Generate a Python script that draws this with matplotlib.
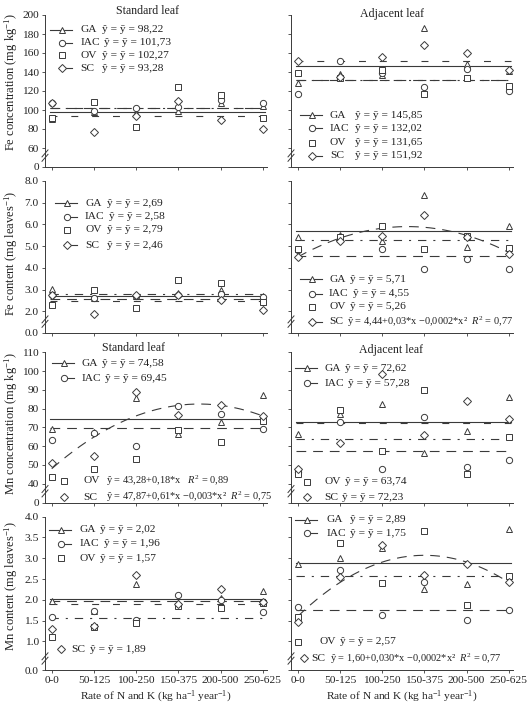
import numpy as np
import matplotlib
matplotlib.use("Agg")
import matplotlib.pyplot as plt
from matplotlib.lines import Line2D

plt.rcParams['font.family'] = ['Liberation Serif', 'DejaVu Serif']
plt.rcParams['mathtext.fontset'] = 'custom'
plt.rcParams['mathtext.rm'] = 'Liberation Serif'
plt.rcParams['mathtext.it'] = 'Liberation Serif:italic'
plt.rcParams['mathtext.bf'] = 'Liberation Serif:bold'
plt.rcParams['lines.scale_dashes'] = False

# ---------------- data ----------------
categories = ["0-0", "50-125", "100-250", "150-375", "200-500", "250-625"]
n_rate = [0, 50, 100, 150, 200, 250]
cultivars = ["GA", "IAC", "OV", "SC"]

# Fe concentration, standard leaf
fe_conc_std_GA = [91, 98, 97, 99, 107, 104]
fe_conc_std_IAC = [107, 99, 101.8, 103, 110.7, 107.1]
fe_conc_std_OV = [91.5, 108.9, 82, 124.5, 115.6, 91.2]
fe_conc_std_SC = [107.1, 77, 93.3, 109.6, 90, 80.5]
fe_conc_std_fit = [98.22, 101.73, 102.27, 93.28]

# Fe concentration, adjacent leaf
fe_conc_adj_GA = [128, 138, 136.5, 185.8, 147.9, 141.5]
fe_conc_adj_IAC = [116.7, 152, 139, 123.8, 143.3, 119.5]
fe_conc_adj_OV = [138.7, 134, 142.6, 116.7, 133.4, 124.8]
fe_conc_adj_SC = [151.1, 134.5, 155.7, 168, 160, 142.6]
fe_conc_adj_fit = [145.85, 132.02, 131.65, 151.92]

# Fe content, standard leaf
fe_cont_std_GA = [3.03, 2.6, 2.7, 2.85, 3.0, 2.7]
fe_cont_std_IAC = [2.76, 2.6, 2.7, 2.76, 2.8, 2.65]
fe_cont_std_OV = [2.27, 3.0, 2.17, 3.44, 3.3, 2.45]
fe_cont_std_SC = [2.76, 1.89, 2.73, 2.76, 2.5, 2.05]
fe_cont_std_fit = [2.69, 2.58, 2.79, 2.46]

# Fe content, adjacent leaf
fe_cont_adj_GA = [5.42, 5.53, 5.23, 7.35, 4.97, 5.95]
fe_cont_adj_IAC = [4.8, 5.3, 4.89, 3.97, 4.39, 3.97]
fe_cont_adj_OV = [4.85, 5.41, 5.91, 4.88, 5.45, 4.92]
fe_cont_adj_SC = [4.52, 5.23, 5.45, 6.44, 5.41, 4.62]
fe_cont_adj_fit = [5.71, 4.55, 5.26, None]
fe_cont_adj_SC_curve = [4.5, 0.02154, -8.28e-5]   # as drawn

# Mn concentration, standard leaf
mn_conc_std_GA = [69.2, 67.5, 85.6, 66.7, 72.9, 87.4]
mn_conc_std_IAC = [63.3, 67, 60, 81.5, 77.3, 69.2]
mn_conc_std_OV = [43.5, 48, 53.3, 68.4, 62.3, 73.6]
mn_conc_std_SC = [50.8, 55, 88.6, 76.7, 82.1, 75.9]
mn_conc_std_fit = [74.58, 69.45, None, None]
mn_conc_std_SC_curve = [48.0, 0.394, -1.1265e-3]  # as drawn

# Mn concentration, adjacent leaf
mn_conc_adj_GA = [66.7, 77.1, 82.4, 56.1, 67.9, 86.1]
mn_conc_adj_IAC = [46.4, 72.9, 48.1, 75.4, 48.8, 52.5]
mn_conc_adj_OV = [45, 79.4, 57.3, 90, 45, 64.9]
mn_conc_adj_SC = [48.1, 61.7, 98.3, 66.2, 83.8, 74.6]
mn_conc_adj_fit = [72.62, 57.28, 63.74, 72.23]

# Mn content, standard leaf
mn_cont_std_GA = [1.97, 1.72, 2.37, 1.93, 2.05, 2.21]
mn_cont_std_IAC = [1.59, 1.72, 1.52, 2.11, 1.99, 1.71]
mn_cont_std_OV = [1.10, 1.34, 1.43, 1.85, 1.80, 1.93]
mn_cont_std_SC = [1.30, 1.37, 2.59, 1.91, 2.27, 1.95]
mn_cont_std_fit = [2.02, 1.96, 1.57, 1.89]

# Mn content, adjacent leaf
mn_cont_adj_GA = [2.87, 3.01, 3.24, 2.25, 2.39, 3.70]
mn_cont_adj_IAC = [1.83, 2.71, 1.64, 2.43, 1.51, 1.76]
mn_cont_adj_OV = [1.59, 3.37, 2.41, 3.65, 1.87, 2.58]
mn_cont_adj_SC = [1.47, 2.54, 3.33, 2.59, 2.87, 2.43]
mn_cont_adj_fit = [2.89, 1.75, 2.57, None]
mn_cont_adj_SC_curve = [1.6, 0.0196, -6.53e-5]  # as drawn

# ---------------- styling ----------------
W, H = 527, 706
fig = plt.figure(figsize=(W / 100, H / 100), dpi=100)
renderer = fig.canvas.get_renderer()
C = '#3a3a3a'
TC = '#222222'
LW = 0.8
FS = 8.2
FS_LONG = 7.5
FS_YLAB = 9.0
markers = {"GA": "^", "IAC": "o", "OV": "s", "SC": "D"}
msize = {"GA": 5.0, "IAC": 4.5, "OV": 4.6, "SC": 4.0}
lstyles = {"GA": "-", "IAC": (0, (7, 5)), "OV": (0, (6, 5, 1.5, 5)), "SC": (0, (5, 10))}
curve_style = (0, (7, 5))


def fx(x):
    return x / W


def fy(y):
    return 1 - y / H


def comma(v):
    return f"{v:.2f}".replace('.', ',')


def mean_eq(v):
    return "ŷ = ȳ = " + comma(v)


col_left = [45, 291]
ax_w = 222
rows_tb = [(15, 167), (181, 333), (352.3, 502.5), (516.7, 670)]
ylims = [(40, 200), (1, 8), (30, 110), (0.31, 4.0)]
yticks = [
    ([40] + list(range(60, 201, 20)), ["0"] + [str(v) for v in range(60, 201, 20)]),
    ([1, 2, 3, 4, 5, 6, 7, 8], ["0.0", "2.0", "3.0", "4.0", "5.0", "6.0", "7.0", "8.0"]),
    ([30] + list(range(40, 111, 10)), ["0"] + [str(v) for v in range(40, 111, 10)]),
    ([0.31, 1.0, 1.5, 2.0, 2.5, 3.0, 3.5, 4.0], ["0.0", "1.0", "1.5", "2.0", "2.5", "3.0", "3.5", "4.0"]),
]
ylabels = [r"Fe concentration (mg kg$^{-1}$)", r"Fe content (mg leaves$^{-1}$)",
           r"Mn concentration (mg kg$^{-1}$)", r"Mn content (mg leaves$^{-1}$)"]
ylabel_y = [82, 253, 424, 586]

panels = [
    [(fe_conc_std_GA, fe_conc_std_IAC, fe_conc_std_OV, fe_conc_std_SC), fe_conc_std_fit, None],
    [(fe_conc_adj_GA, fe_conc_adj_IAC, fe_conc_adj_OV, fe_conc_adj_SC), fe_conc_adj_fit, None],
    [(fe_cont_std_GA, fe_cont_std_IAC, fe_cont_std_OV, fe_cont_std_SC), fe_cont_std_fit, None],
    [(fe_cont_adj_GA, fe_cont_adj_IAC, fe_cont_adj_OV, fe_cont_adj_SC), fe_cont_adj_fit, fe_cont_adj_SC_curve],
    [(mn_conc_std_GA, mn_conc_std_IAC, mn_conc_std_OV, mn_conc_std_SC), mn_conc_std_fit, mn_conc_std_SC_curve],
    [(mn_conc_adj_GA, mn_conc_adj_IAC, mn_conc_adj_OV, mn_conc_adj_SC), mn_conc_adj_fit, None],
    [(mn_cont_std_GA, mn_cont_std_IAC, mn_cont_std_OV, mn_cont_std_SC), mn_cont_std_fit, None],
    [(mn_cont_adj_GA, mn_cont_adj_IAC, mn_cont_adj_OV, mn_cont_adj_SC), mn_cont_adj_fit, mn_cont_adj_SC_curve],
]

eq_p4_sc = "ŷ = 4,44+0,03*x −0,0002*x²  $R^2$ = 0,77"
eq_p5_ov = "ŷ = 43,28+0,18*x   $R^2$ = 0,89"
eq_p5_sc = "ŷ = 47,87+0,61*x −0,003*x²  $R^2$ = 0,75"
eq_p8_sc = "ŷ = 1,60+0,030*x −0,0002*x²  $R^2$ = 0,77"

# legend entries: (series index, y px, marker x px, label x px, eq x px, eq text or None, handle line)
legends = [
    [(0, 30, 62, 80.7, 101.7, None, True), (1, 42.7, 62, 80.7, 101.7, None, True),
     (2, 55.3, 62, 80.7, 101.7, None, False), (3, 68.3, 62, 80.7, 101.7, None, True)],
    [(0, 115, 311.7, 330, 355, None, True), (1, 128.3, 311.7, 330, 355, None, True),
     (2, 142.7, 311.7, 330, 355, None, False), (3, 156, 311.7, 330, 355, None, True)],
    [(0, 203.3, 66.7, 85, 106.7, None, True), (1, 216.7, 66.7, 85, 106.7, None, True),
     (2, 230, 66.7, 85, 106.7, None, False), (3, 245, 66.7, 85, 106.7, None, True)],
    [(0, 279.3, 311.7, 329, 0, None, True), (1, 294, 311.7, 329, 0, None, True),
     (2, 306.7, 311.7, 329, 0, None, False), (3, 321.7, 311.7, 329, 0, eq_p4_sc, True)],
    [(0, 363.3, 64, 81.7, 101.7, None, True), (1, 378.3, 64, 81.7, 101.7, None, True),
     (2, 480.7, 64, 83.3, 106, eq_p5_ov, False), (3, 497.3, 64, 83.3, 106, eq_p5_sc, False)],
    [(0, 368.3, 306.7, 324.5, 0, None, True), (1, 383.3, 306.7, 324.5, 0, None, True),
     (2, 481.7, 306.7, 324.5, 0, None, False), (3, 497.3, 306.7, 324.5, 0, None, False)],
    [(0, 530, 61, 80, 100, None, True), (1, 544, 61, 80, 100, None, True),
     (2, 558.3, 61, 80, 100, None, False), (3, 649, 61, 71.7, 0, None, False)],
    [(0, 520, 307, 326.7, 350, None, True), (1, 533.3, 307, 326.7, 350, None, True),
     (2, 641.7, 297.7, 320, 0, None, False), (3, 658.3, 304.3, 311.7, 0, eq_p8_sc, False)],
]

titles = {0: ("Standard leaf", 148, 11), 1: ("Adjacent leaf", 392, 13.5),
          4: ("Standard leaf", 134, 348), 5: ("Adjacent leaf", 391, 350)}

xs = np.arange(len(categories))
for p in range(8):
    r, c = divmod(p, 2)
    top, bot = rows_tb[r]
    ax = fig.add_axes([fx(col_left[c]), fy(bot), ax_w / W, (bot - top) / H])
    ax.set_xlim(-0.16, 5.1)
    ax.set_ylim(*ylims[r])
    for s in ("top", "right"):
        ax.spines[s].set_visible(False)
    for s in ("left", "bottom"):
        ax.spines[s].set_color(C)
        ax.spines[s].set_linewidth(0.7)
    ax.set_yticks(yticks[r][0])
    ax.set_xticks(xs)
    ax.tick_params(direction='out', length=2.5, width=0.6, color=C, labelsize=8.2, pad=2,
                   labelcolor=TC)
    if c == 0:
        ax.set_yticklabels(yticks[r][1])
        fig.text(fx(11.5), fy(ylabel_y[r]), ylabels[r], rotation=90, ha='center', va='center',
                 fontsize=FS_YLAB, color=TC)
    else:
        ax.set_yticklabels([])
    if r == 3:
        ax.set_xticklabels(categories)
    else:
        ax.set_xticklabels([])

    data, fits, curve = panels[p]
    for i, f in enumerate(fits):
        if f is None:
            continue
        ax.plot([-0.05, 5.05], [f, f], ls=lstyles[cultivars[i]], color=C, lw=LW, zorder=2)
    if curve is not None:
        nn = np.linspace(n_rate[0], n_rate[-1], 200)
        yy = curve[0] + curve[1] * nn + curve[2] * nn ** 2
        ax.plot(nn / 50.0, yy, ls=curve_style, color=C, lw=LW, zorder=2)
    for i, vals in enumerate(data):
        k = cultivars[i]
        ax.plot(xs, vals, ls='none', marker=markers[k], ms=msize[k], mfc='white', mec=C,
                mew=0.7, zorder=3 + i * 0.1, clip_on=False)

    # break marks on the y axis
    pos = ax.get_position()
    bx = pos.x0 * W
    by = (pos.y0 + 0.075 * pos.height) * H
    for dy in (-2.2, 2.2):
        fig.add_artist(Line2D([(bx - 3) / W, (bx + 3) / W],
                              [(by + dy - 3.5) / H, (by + dy + 3.5) / H],
                              color=C, lw=0.7, transform=fig.transFigure))

    # legend
    for (si, ypx, mx, lx, ex, eq, hline) in legends[p]:
        k = cultivars[si]
        if hline:
            x0 = mx - 12 if k == "GA" else mx + 3
            fig.add_artist(Line2D([fx(x0), fx(mx + 10)], [fy(ypx), fy(ypx)], color=C, lw=LW,
                                  transform=fig.transFigure))
        fig.add_artist(Line2D([fx(mx)], [fy(ypx)], ls='none', marker=markers[k], ms=msize[k],
                              mfc='white', mec=C, mew=0.7, transform=fig.transFigure))
        txt = eq if eq is not None else mean_eq(fits[si])
        fs = FS_LONG if eq is not None else FS
        lab = fig.text(fx(lx), fy(ypx), k, ha='left', va='center', fontsize=FS, color=TC)
        lab_end = lab.get_window_extent(renderer).x1
        xeq = max(ex, lab_end + 4)
        fig.text(fx(xeq), fy(ypx), txt, ha='left', va='center', fontsize=fs, color=TC)

    if p in titles:
        t, tx, ty = titles[p]
        fig.text(fx(tx), fy(ty), t, ha='center', va='center', fontsize=8.6, color=TC)

for cx in [156, 402]:
    fig.text(fx(cx), fy(697), r"Rate of N and K (kg ha$^{-1}$ year$^{-1}$)", ha='center', va='center',
             fontsize=FS, color=TC)

fig.savefig("out.png", dpi=100)
